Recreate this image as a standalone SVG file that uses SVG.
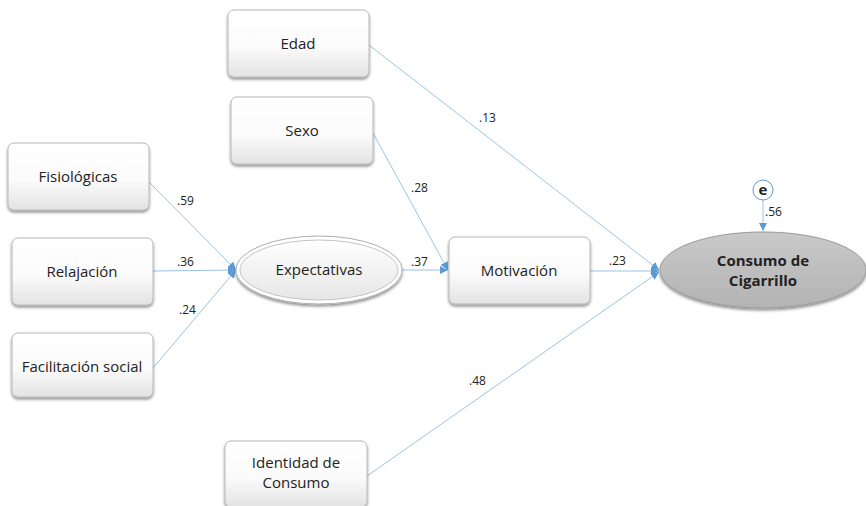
<svg xmlns="http://www.w3.org/2000/svg" width="866" height="506" viewBox="0 0 866 506">
<style>
.box{fill:url(#gBox);stroke:#b8b8b8;stroke-width:1;filter:url(#sh)}
.lbl{font-family:"Open Sans","Liberation Sans",sans-serif;font-size:15px;fill:#222;text-anchor:middle}
.num{font-family:"Open Sans","Liberation Sans",sans-serif;font-size:12px;fill:#222}
.edge{stroke:#9cc3e5;stroke-width:1;fill:none;marker-end:url(#arr)}
</style>
<defs>
<linearGradient id="gBox" x1="0" y1="0" x2="0" y2="1">
<stop offset="0" stop-color="#ffffff"/><stop offset="0.55" stop-color="#fbfbfb"/><stop offset="1" stop-color="#e3e3e3"/>
</linearGradient>
<linearGradient id="gEll" x1="0" y1="0" x2="0" y2="1">
<stop offset="0" stop-color="#ffffff"/><stop offset="1" stop-color="#e6e6e6"/>
</linearGradient>
<linearGradient id="gCons" x1="0" y1="0" x2="0" y2="1">
<stop offset="0" stop-color="#c9c9c9"/><stop offset="1" stop-color="#b3b3b3"/>
</linearGradient>
<filter id="sh" x="-10%" y="-10%" width="125%" height="135%">
<feGaussianBlur in="SourceAlpha" stdDeviation="1.5"/>
<feOffset dx="0" dy="2" result="o"/>
<feComponentTransfer><feFuncA type="linear" slope="0.45"/></feComponentTransfer>
<feMerge><feMergeNode/><feMergeNode in="SourceGraphic"/></feMerge>
</filter>
<marker id="arr" viewBox="0 0 10 10" refX="10" refY="5" markerWidth="8" markerHeight="8" markerUnits="userSpaceOnUse" orient="auto">
<path d="M0,0 L10,5 L0,10 z" fill="#5b9bd5"/>
</marker>
</defs>

<g id="connectors">
<line class="edge" x1="369" y1="45" x2="659" y2="270"/>
<line class="edge" x1="373" y1="133" x2="448" y2="270"/>
<line class="edge" x1="149" y1="182" x2="236" y2="270"/>
<line class="edge" x1="153" y1="271" x2="236" y2="270"/>
<line class="edge" x1="153" y1="368" x2="236" y2="270"/>
<line class="edge" x1="402" y1="270" x2="448" y2="270"/>
<line class="edge" x1="590" y1="271" x2="659" y2="271"/>
<line class="edge" x1="367" y1="476" x2="659" y2="272"/>
<line class="edge" x1="763" y1="200" x2="763" y2="231"/>
<text class="num" x="479" y="122">.13</text>
<text class="num" x="411" y="192">.28</text>
<text class="num" x="177" y="205">.59</text>
<text class="num" x="177" y="266">.36</text>
<text class="num" x="179" y="314">.24</text>
<text class="num" x="411" y="266">.37</text>
<text class="num" x="609" y="265">.23</text>
<text class="num" x="469" y="385">.48</text>
<text class="num" x="765" y="216">.56</text>
</g>

<g id="edad"><rect class="box" x="228" y="10" width="141" height="67" rx="6"/><text class="lbl" x="298" y="49">Edad</text></g>
<g id="sexo"><rect class="box" x="231" y="97" width="142" height="67" rx="6"/><text class="lbl" x="302" y="136">Sexo</text></g>
<g id="fisiologicas"><rect class="box" x="8" y="143" width="141" height="67" rx="6"/><text class="lbl" x="78" y="182">Fisiológicas</text></g>
<g id="relajacion"><rect class="box" x="12" y="238" width="141" height="67" rx="6"/><text class="lbl" x="82" y="277">Relajación</text></g>
<g id="facilitacion"><rect class="box" x="12" y="333" width="141" height="64" rx="6"/><text class="lbl" x="82" y="372">Facilitación social</text></g>
<g id="expectativas">
<ellipse cx="319" cy="270" rx="83" ry="34" fill="#ffffff" stroke="#b0b0b0" stroke-width="1" filter="url(#sh)"/>
<ellipse cx="319" cy="270" rx="79" ry="30" fill="url(#gEll)" stroke="#c4c4c4" stroke-width="1"/>
<text class="lbl" x="319" y="275">Expectativas</text>
</g>
<g id="motivacion"><rect class="box" x="449" y="237" width="141" height="67" rx="6"/><text class="lbl" x="519" y="276">Motivación</text></g>
<g id="consumo">
<ellipse cx="763" cy="270" rx="103" ry="38" fill="url(#gCons)" stroke="#9a9a9a" stroke-width="1" filter="url(#sh)"/>
<text class="lbl" x="763" y="266" font-weight="bold">Consumo de</text>
<text class="lbl" x="763" y="286" font-weight="bold">Cigarrillo</text>
</g>
<g id="e">
<circle cx="763" cy="190" r="10" fill="#ffffff" stroke="#5b9bd5" stroke-width="1"/>
<text class="lbl" x="763" y="195" font-size="13" font-weight="bold">e</text>
</g>
<g id="identidad"><rect class="box" x="225" y="441" width="142" height="66" rx="6"/><text class="lbl" x="296" y="468">Identidad de</text><text class="lbl" x="296" y="488">Consumo</text></g>
</svg>
